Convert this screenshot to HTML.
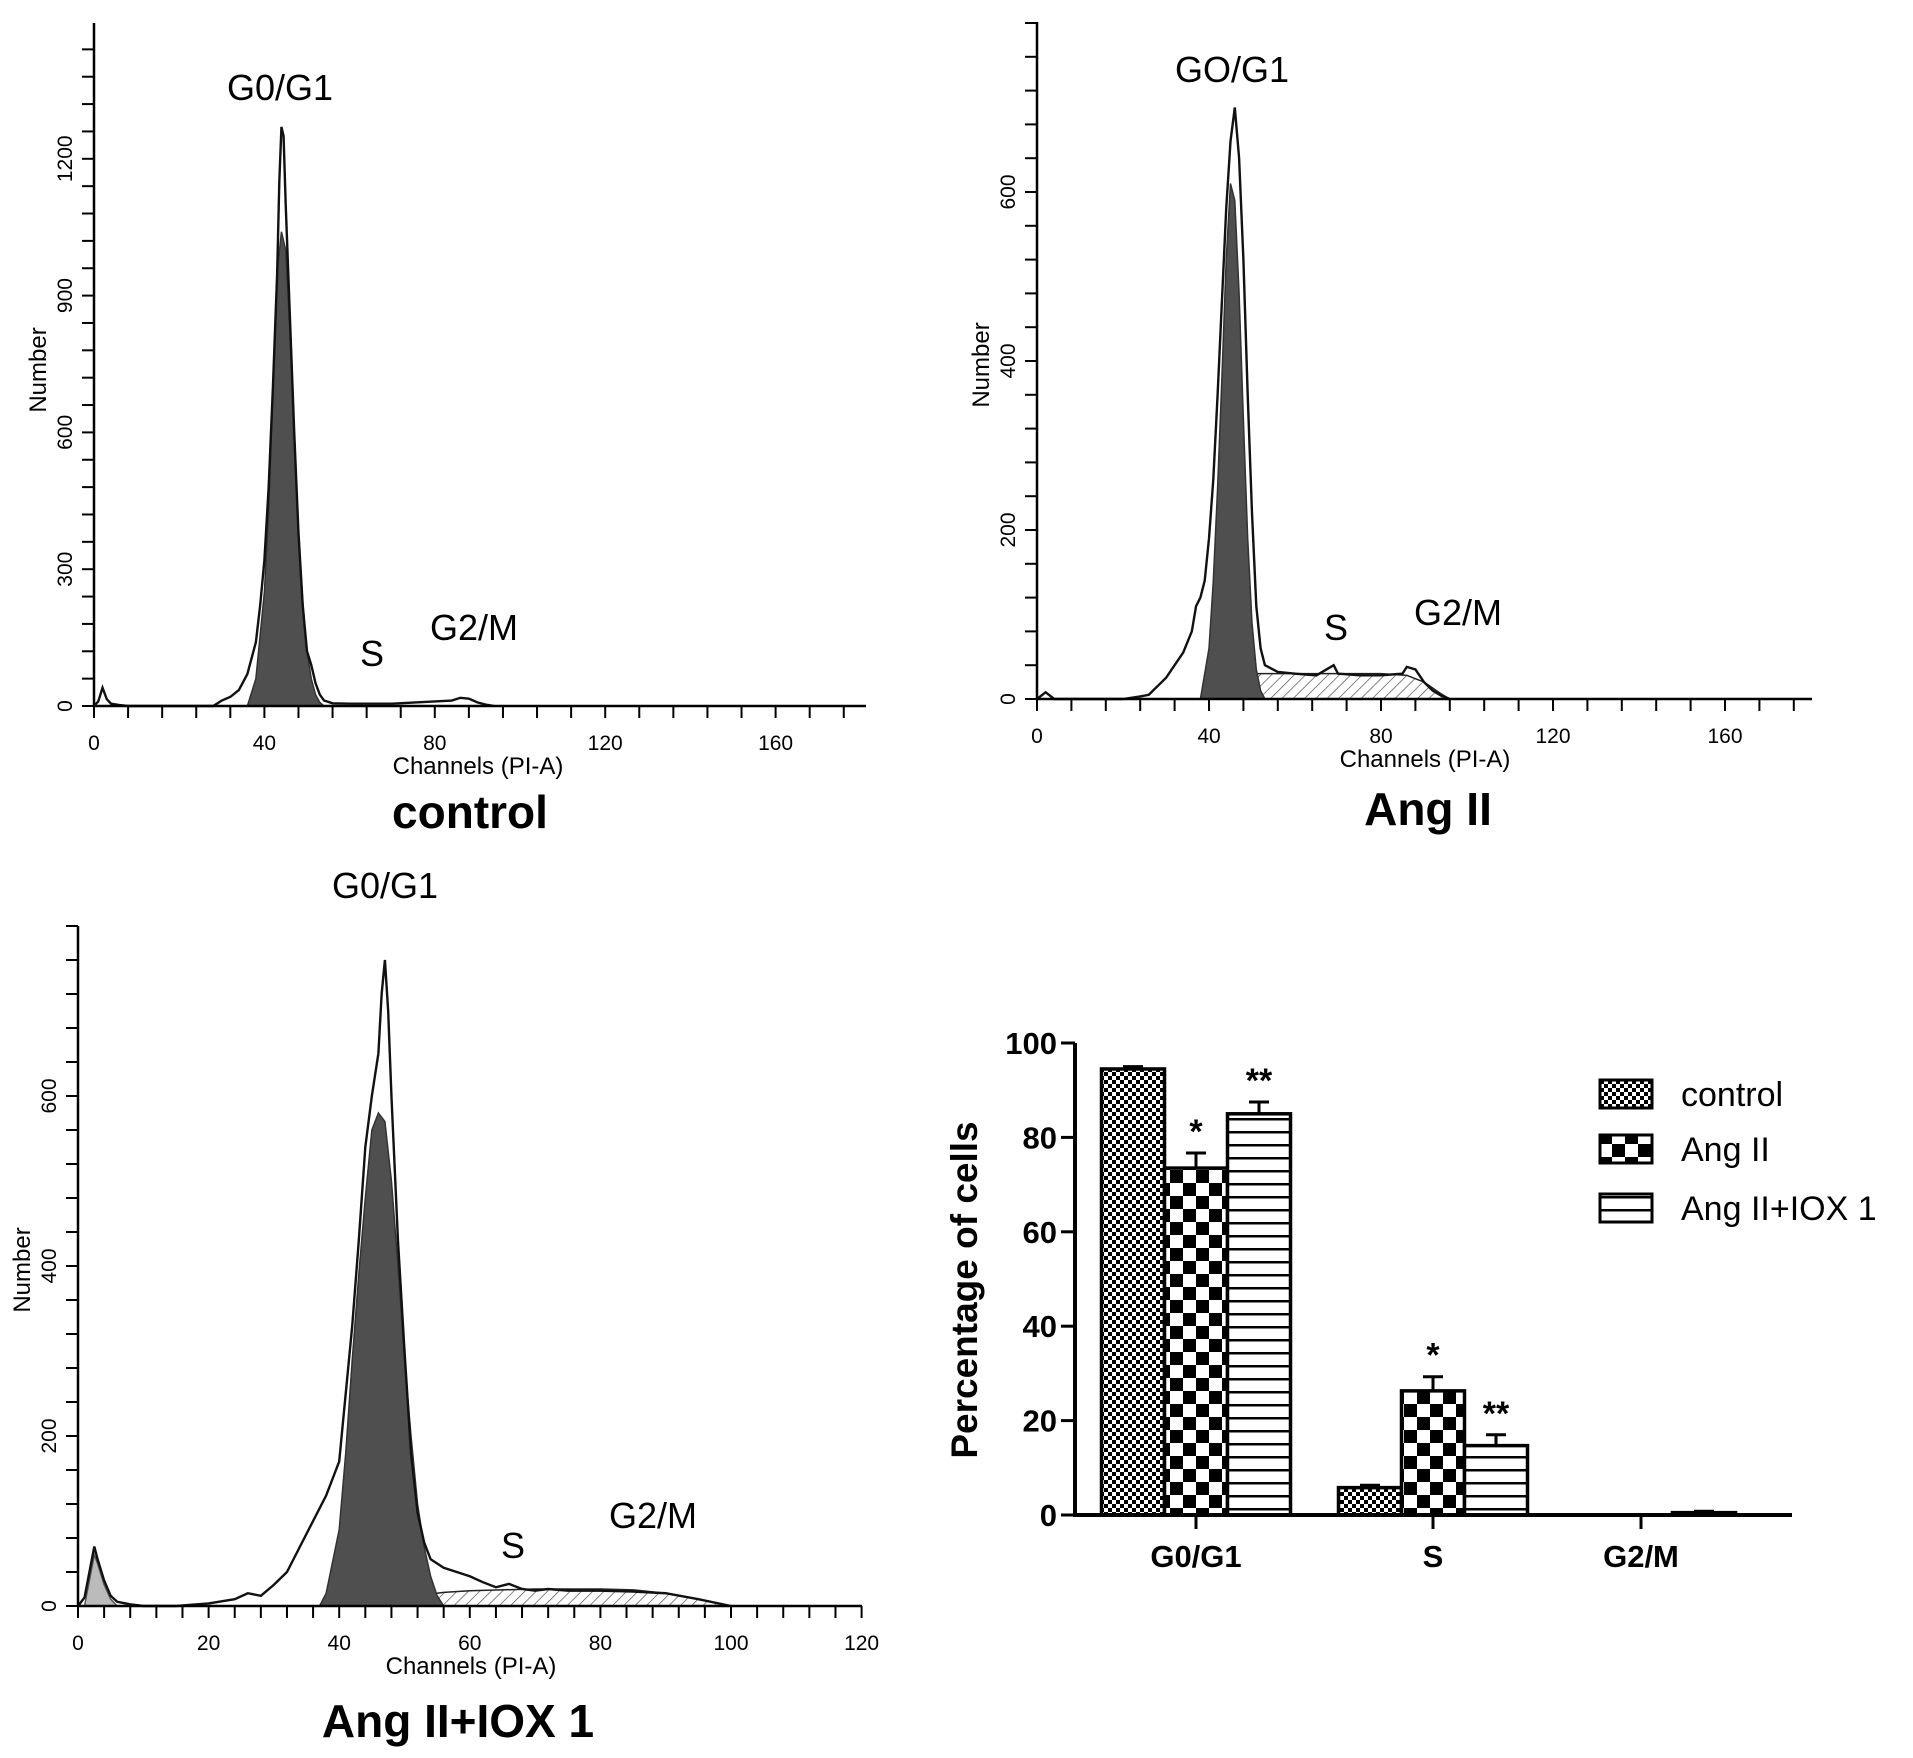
<!DOCTYPE html>
<html><head><meta charset="utf-8">
<style>
html,body{margin:0;padding:0;background:#fff}
svg{display:block;font-family:"Liberation Sans",sans-serif}
</style></head>
<body>
<svg id="fig" width="1913" height="1758" viewBox="0 0 1913 1758">
<defs>
<pattern id="hatch" width="8" height="8" patternUnits="userSpaceOnUse" patternTransform="rotate(45)"><rect width="8" height="8" fill="#fff"/><line x1="0" y1="0" x2="0" y2="8" stroke="#444" stroke-width="1.3"/></pattern>
<pattern id="pCtrl" width="8" height="8" patternUnits="userSpaceOnUse"><rect width="8" height="8" fill="#fff"/><rect width="4" height="4" fill="#000"/><rect x="4" y="4" width="4" height="4" fill="#000"/></pattern>
<pattern id="pAng" width="26" height="26" patternUnits="userSpaceOnUse"><rect width="26" height="26" fill="#fff"/><rect width="13" height="13" fill="#000"/><rect x="13" y="13" width="13" height="13" fill="#000"/></pattern>
<pattern id="pIox" width="10" height="13" patternUnits="userSpaceOnUse"><rect width="10" height="13" fill="#fff"/><rect y="0" width="10" height="2.5" fill="#000"/></pattern>
</defs>
</svg>
<script>
// ---- histogram data (channel, count) ----
const ctrlOutlineX=[0,1,2,3,4,6,8,28,30,32,34,36,38,39,40,41,42,43,43.5,44,44.5,45,46,47,48,49,50,51,52,53,54,56,60,70,76,80,84,86,88,90,92,94];
const ctrlOutlineY=[0,10,40,15,5,2,0,0,12,20,35,70,140,220,320,480,700,950,1150,1270,1250,1100,850,600,380,220,120,90,50,25,12,6,5,5,8,10,12,18,16,8,3,0];
const ctrlG1X=[36,38,40,41,42,43,44,45,46,47,48,49,50,51,52,53,54];
const ctrlG1Y=[0,60,250,430,700,950,1040,1000,820,600,380,230,120,60,25,8,0];

const angOutlineX=[0,2,4,20,24,26,28,30,32,34,36,37,38,39,40,41,42,43,44,45,46,47,48,49,50,51,52,53,56,60,65,69,70,75,80,85,86,88,90,92,94,96];
const angOutlineY=[0,8,0,0,3,5,15,25,40,55,80,110,120,140,190,260,360,470,580,660,700,640,520,360,220,110,60,40,32,30,28,40,30,28,28,30,38,35,20,10,4,0];
const angG1X=[38,40,41,42,43,44,45,46,47,48,49,50,51,52,53];
const angG1Y=[0,60,140,250,380,520,610,590,480,330,190,90,35,10,0];
const angSX=[44,46,48,50,52,60,70,80,86,90,94,96];
const angSY=[0,12,25,30,30,30,30,30,28,20,6,0];

const ioxOutlineX=[0,1,2,2.5,3,4,5,6,8,10,15,20,24,26,28,30,32,34,36,38,40,41,42,43,44,45,46,46.5,47,47.5,48,49,50,51,52,53,54,56,58,60,62,64,66,68,70,72,75,80,85,90,95,100];
const ioxOutlineY=[0,10,50,70,55,30,12,5,2,0,0,3,8,15,12,25,40,70,100,130,170,250,330,430,540,600,650,720,760,700,600,430,300,180,110,75,55,45,40,35,28,22,26,20,18,20,18,18,17,15,8,0];
const ioxG1X=[37,38,40,41,42,43,44,45,46,47,48,49,50,51,52,53,54,55,56];
const ioxG1Y=[0,15,90,180,290,390,480,560,580,570,500,400,290,200,120,70,35,12,0];
const ioxDebX=[1,2,2.5,3,4,5,6];
const ioxDebY=[0,40,60,50,25,8,0];
const ioxSX=[44,48,52,56,60,70,80,85,90,95,100];
const ioxSY=[0,6,12,16,18,20,20,19,15,8,0];

// ---- bar chart data ----
const barCategories=["G0/G1","S","G2/M"];
const barSeriesNames=["control","Ang II","Ang II+IOX 1"];
const barControl=[94.5,5.8,0];
const barAngII=[73.5,26.3,0];
const barIox=[85,14.7,0.5];
const errControl=[0.5,0.5,0];
const errAngII=[3.2,3,0];
const errIox=[2.5,2.3,0.3];
const barStars=[["","*","**"],["","*","**"],["","",""]];
const barTicks=[0,20,40,60,80,100];

const NS="http://www.w3.org/2000/svg";
const svg=document.getElementById('fig');
function el(tag,attrs,parent){const e=document.createElementNS(NS,tag);for(const k in attrs)e.setAttribute(k,attrs[k]);(parent||svg).appendChild(e);return e;}
function txt(s,attrs,parent){const e=el('text',attrs,parent);e.textContent=s;return e;}

function histogram(cfg){
  const g=el('g',{});
  
  
  const sx=v=>cfg.x0+(v-0)*cfg.kx, sy=v=>cfg.y0-v*cfg.ky;
  const area=(xs,ys,fill,stroke,nm)=>{
    let d='M'+sx(xs[0])+','+sy(0);
    xs.forEach((x,i)=>d+=' L'+sx(x)+','+sy(ys[i]));
    d+=' L'+sx(xs[xs.length-1])+','+sy(0)+'Z';
    const p=el('path',{d:d,fill:fill,stroke:stroke,'stroke-width':1.5},g);
    
    
  };
  if(cfg.sX) area(cfg.sX,cfg.sY,'url(#hatch)','#222',cfg.name+'-s-phase');
  if(cfg.debX) area(cfg.debX,cfg.debY,'#bbb','#555',cfg.name+'-debris');
  area(cfg.g1X,cfg.g1Y,'#4f4f4f','#333',cfg.name+'-g0g1-fill');
  let d='';
  cfg.oX.forEach((x,i)=>d+=(i?' L':'M')+sx(x)+','+sy(cfg.oY[i]));
  const o=el('path',{d:d,fill:'none',stroke:'#111','stroke-width':2.4},g);
  
  
  const ax=el('path',{d:`M${cfg.x0},${cfg.top} V${cfg.y0} H${cfg.xEnd}`,fill:'none',stroke:'#000','stroke-width':2.5},g);
  
  
  for(let v=0;sx(v)<=cfg.xEnd+1;v+=cfg.xMinor){el('line',{x1:sx(v),x2:sx(v),y1:cfg.y0,y2:cfg.y0+12,stroke:'#000','stroke-width':2},g);}
  for(let v=0;sy(v)>=cfg.top;v+=cfg.yMinor){el('line',{x1:cfg.x0-12,x2:cfg.x0,y1:sy(v),y2:sy(v),stroke:'#000','stroke-width':2},g);}
  cfg.xLabels.forEach(v=>{const t=txt(String(v),{x:sx(v),y:cfg.y0+44,'font-size':21,'text-anchor':'middle'},g);});
  cfg.yLabels.forEach(v=>{const t=txt(String(v),{x:0,y:0,'font-size':21,'text-anchor':'middle',transform:`translate(${cfg.x0-22},${sy(v)}) rotate(-90)`},g);});
  let t=txt('Number',{'font-size':24,'text-anchor':'middle',transform:`translate(${cfg.x0-48},${cfg.numY}) rotate(-90)`},g);
  
  t=txt('Channels (PI-A)',{x:cfg.chX,y:cfg.y0+68,'font-size':24,'text-anchor':'middle'},g);
  
  cfg.labels.forEach(l=>{const q=txt(l[0],{x:l[1],y:l[2],'font-size':36,'text-anchor':'middle'},g);});
  t=txt(cfg.title,{x:cfg.titleX,y:cfg.titleY,'font-size':46,'font-weight':'bold','text-anchor':'middle'},g);
  
}

histogram({name:'control-histogram',x0:94,y0:706,top:23,xEnd:866,kx:4.26,ky:0.456,xMinor:8,yMinor:60,
 xLabels:[0,40,80,120,160],yLabels:[0,300,600,900,1200],numY:370,chX:478,
 oX:ctrlOutlineX,oY:ctrlOutlineY,g1X:ctrlG1X,g1Y:ctrlG1Y,
 labels:[['G0/G1',280,100],['S',372,666],['G2/M',474,640]],title:'control',titleX:470,titleY:828});

histogram({name:'angii-histogram',x0:1037,y0:699,top:22,xEnd:1812,kx:4.3,ky:0.845,xMinor:8,yMinor:40,
 xLabels:[0,40,80,120,160],yLabels:[0,200,400,600],numY:365,chX:1425,
 oX:angOutlineX,oY:angOutlineY,g1X:angG1X,g1Y:angG1Y,sX:angSX,sY:angSY,
 labels:[['GO/G1',1232,82],['S',1336,640],['G2/M',1458,625]],title:'Ang II',titleX:1428,titleY:825});

histogram({name:'angii-iox1-histogram',x0:78,y0:1606,top:926,xEnd:862,kx:6.53,ky:0.85,xMinor:4,yMinor:40,
 xLabels:[0,20,40,60,80,100,120],yLabels:[0,200,400,600],numY:1270,chX:471,
 oX:ioxOutlineX,oY:ioxOutlineY,g1X:ioxG1X,g1Y:ioxG1Y,sX:ioxSX,sY:ioxSY,debX:ioxDebX,debY:ioxDebY,
 labels:[['G0/G1',385,898],['S',513,1558],['G2/M',653,1528]],title:'Ang II+IOX 1',titleX:458,titleY:1737});

// ---- bar chart ----
(function(){
  const g=el('g',{});
  
  
  const x0=1075,y0=1515,yTop=1043,xEnd=1792;
  const sy=v=>y0-(v/100)*(y0-yTop);
  const groupCenters=[1196,1433,1641];
  const bw=63;
  const series=[barControl,barAngII,barIox], errs=[errControl,errAngII,errIox], fills=['url(#pCtrl)','url(#pAng)','url(#pIox)'];
  barCategories.forEach((c,ci)=>{
    series.forEach((s,si)=>{
      const xl=groupCenters[ci]+(si-1.5)*bw;
      const top=sy(s[ci]);
      if(s[ci]>0.3){const r=el('rect',{x:xl,y:top,width:bw,height:y0-top,fill:fills[si],stroke:'#000','stroke-width':3.5},g);
      }
      else if(s[ci]>0){const r=el('rect',{x:xl,y:top,width:bw,height:y0-top,fill:'#000'},g);}
      const cx=xl+bw/2, et=sy(s[ci]+errs[si][ci]);
      if(errs[si][ci]>0){el('line',{x1:cx,x2:cx,y1:top,y2:et,stroke:'#000','stroke-width':3},g);el('line',{x1:cx-10,x2:cx+10,y1:et,y2:et,stroke:'#000','stroke-width':3},g);}
      const st=barStars[ci][si];
      if(st){const t=txt(st,{x:cx,y:et-10,'font-size':34,'font-weight':'bold','text-anchor':'middle'},g);}
    });
    el('line',{x1:groupCenters[ci],x2:groupCenters[ci],y1:y0,y2:y0+14,stroke:'#000','stroke-width':3},g);
    const t=txt(c,{x:groupCenters[ci],y:y0+52,'font-size':31,'font-weight':'bold','text-anchor':'middle'},g);
    
  });
  const ax=el('path',{d:`M${x0},${yTop} V${y0} H${xEnd}`,fill:'none',stroke:'#000','stroke-width':4},g);
  
  barTicks.forEach(v=>{
    el('line',{x1:x0-14,x2:x0,y1:sy(v),y2:sy(v),stroke:'#000','stroke-width':3},g);
    const t=txt(String(v),{x:x0-18,y:sy(v)+11,'font-size':31,'font-weight':'bold','text-anchor':'end'},g);
    
  });
  const yt=txt('Percentage of cells',{'font-size':37,'font-weight':'bold','text-anchor':'middle',transform:'translate(977,1290) rotate(-90)'},g);
  
  const legY=[1094,1149,1208];
  barSeriesNames.forEach((n,i)=>{
    const r=el('rect',{x:1600,y:legY[i]-14,width:52,height:28,fill:fills[i],stroke:'#000','stroke-width':3},g);
    
    const t=txt(n,{x:1681,y:legY[i]+12,'font-size':34},g);
    
  });
})();
</script>
</body></html>
